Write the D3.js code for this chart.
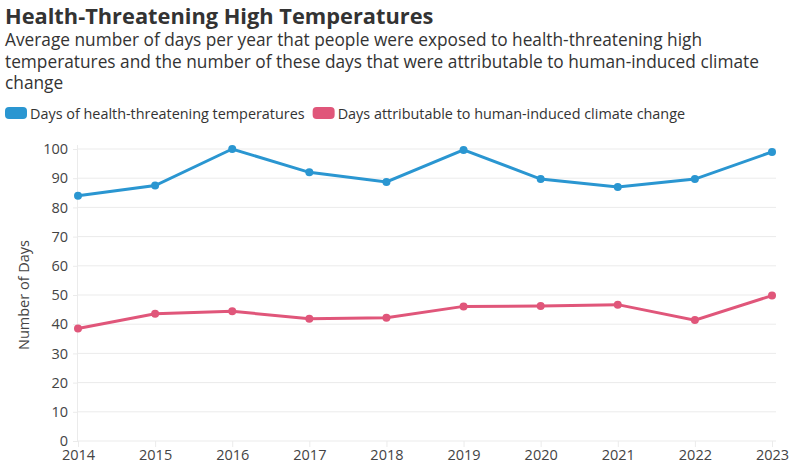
<!DOCTYPE html>
<html><head><meta charset="utf-8">
<script src="https://cdn.jsdelivr.net/npm/d3@7"></script>
<style>body{margin:0;background:#fff;}svg{display:block;font-family:"Open Sans",sans-serif;}</style>
</head><body>
<script>
const years = [2014,2015,2016,2017,2018,2019,2020,2021,2022,2023];
const healthDays = [84,87.5,100,92,88.7,99.7,89.7,87,89.7,99];
const climateDays = [38.5,43.6,44.4,41.9,42.2,46.1,46.2,46.7,41.4,49.8];
const yTicks = [0,10,20,30,40,50,60,70,80,90,100];
const seriesNames = ["Days of health-threatening temperatures","Days attributable to human-induced climate change"];
const colors = ["#2a96d1","#e0567a"];

const W=800,H=470;
const svg=d3.select("body").append("svg").attr("width",W).attr("height",H);
const m={left:78,right:28,top:149,bottom:29};
const x=d3.scalePoint().domain(years).range([m.left,W-m.right]);
const y=d3.scaleLinear().domain([0,100]).range([H-m.bottom,m.top]);

svg.append("text").attr("x",5).attr("y",24).attr("font-size",21.8).attr("font-weight",700).attr("fill","#333").text("Health-Threatening High Temperatures");
const sub=["Average number of days per year that people were exposed to health-threatening high","temperatures and the number of these days that were attributable to human-induced climate","change"];
sub.forEach((s,i)=>svg.append("text").attr("x",5).attr("y",46+i*21.5).attr("font-size",17.3).attr("fill","#333").text(s));

// legend
const lg=svg.append("g");
let lx=5;
seriesNames.forEach((n,i)=>{
  lg.append("rect").attr("x",lx).attr("y",107).attr("width",22).attr("height",12).attr("rx",4).attr("fill",colors[i]);
  const t=lg.append("text").attr("x",lx+25).attr("y",118.5).attr("font-size",14.4).attr("fill","#333").text(n);
  lx+=25+t.node().getComputedTextLength()+8;
});

// grid
svg.append("g").selectAll("line").data(yTicks).join("line")
 .attr("x1",m.left).attr("x2",W-m.right+4).attr("y1",d=>y(d)).attr("y2",d=>y(d)).attr("stroke","#ebebeb").attr("stroke-width",1);

const ya=svg.append("g").attr("transform",`translate(${m.left},0)`).call(d3.axisLeft(y).tickValues(yTicks).tickSize(5).tickPadding(5));
ya.select(".domain").attr("stroke","#ebebeb").attr("d",`M-0.5,${y(100)-4}V${y(0)}`);
ya.selectAll(".tick line").attr("stroke","#ebebeb");
ya.selectAll("text").attr("font-size",14.5).attr("fill","#444").attr("font-family","Open Sans");

const xa=svg.append("g").attr("transform",`translate(0,${y(0)})`).call(d3.axisBottom(x).tickSize(6).tickPadding(4).tickFormat(d3.format("d")));
xa.select(".domain").remove();
xa.selectAll(".tick line").attr("stroke","#ebebeb");
xa.selectAll("text").attr("font-size",14.5).attr("fill","#444").attr("font-family","Open Sans").attr("dy","0.62em");

svg.append("text").attr("transform",`translate(29,${(y(0)+y(100))/2}) rotate(-90)`).attr("text-anchor","middle").attr("font-size",14.5).attr("fill","#444").text("Number of Days");

[healthDays,climateDays].forEach((vals,i)=>{
  const data=years.map((yr,j)=>({yr,v:vals[j]}));
  svg.append("path").datum(data).attr("fill","none").attr("stroke",colors[i]).attr("stroke-width",3)
   .attr("d",d3.line().x(d=>x(d.yr)).y(d=>y(d.v)));
  svg.append("g").selectAll("circle").data(data).join("circle")
   .attr("cx",d=>x(d.yr)).attr("cy",d=>y(d.v)).attr("r",4).attr("fill",colors[i]);
});
</script>
</body></html>
